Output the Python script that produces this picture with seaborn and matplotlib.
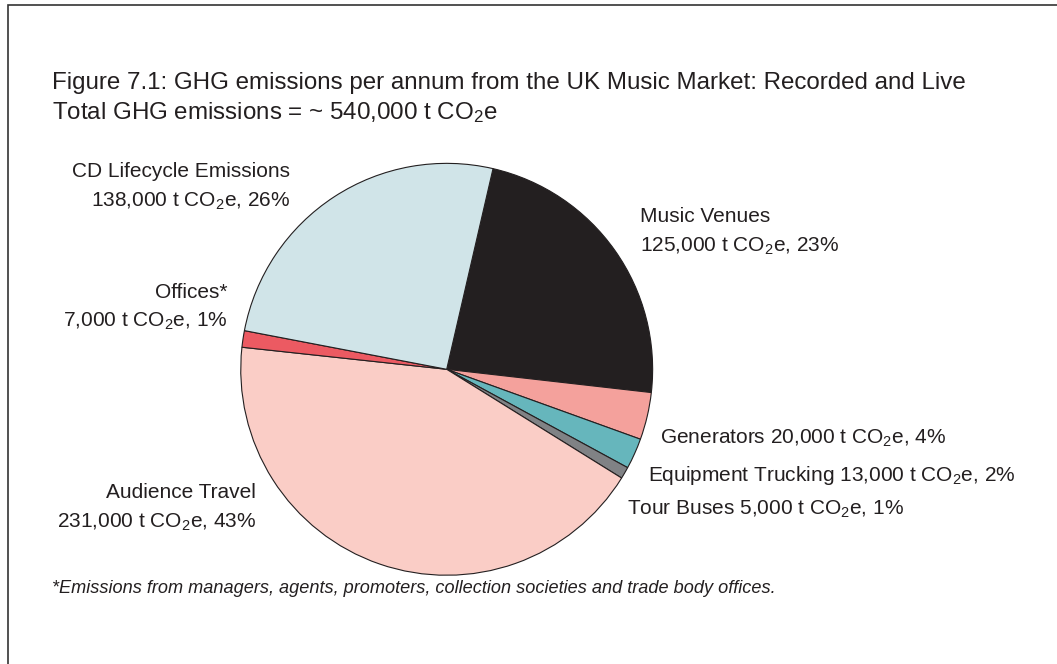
import matplotlib
matplotlib.use("Agg")
import matplotlib.pyplot as plt
import seaborn as sns
from matplotlib.patches import Rectangle

# data (t CO2e)
sources = ["Music Venues", "Generators", "Equipment Trucking", "Tour Buses",
           "Audience Travel", "Offices*", "CD Lifecycle Emissions"]
emissions = [125000, 20000, 13000, 5000, 231000, 7000, 138000]
shares = [23, 4, 2, 1, 43, 1, 26]
colours = ["#231f20", "#f4a19c", "#66b6bc", "#808285", "#facdc6", "#ec5a62", "#d0e4e8"]

sns.set_style("white")
plt.rcParams["font.family"] = ["Liberation Sans", "DejaVu Sans"]
plt.rcParams["mathtext.fontset"] = "custom"
plt.rcParams["mathtext.rm"] = "Liberation Sans"
plt.rcParams["mathtext.it"] = "Liberation Sans:italic"

W, H = 1057, 664
fig = plt.figure(figsize=(W / 100, H / 100), dpi=100)
fig.patch.set_facecolor("white")

# pie axes: centre ~(447, 369) px, radius ~208 px
cx, cy, r = 446.7, 369.3, 208
ax = fig.add_axes([(cx - r) / W, (H - cy - r) / H, 2 * r / W, 2 * r / H])
ax.pie(emissions, colors=sns.color_palette(colours), startangle=77, counterclock=False,
       wedgeprops=dict(edgecolor="#231f20", linewidth=0.8))
ax.set_xlim(-1.01, 1.01)
ax.set_ylim(-1.01, 1.01)
ax.axis("off")

txt = "#231f20"


def put(x, y, s, ha="left", size=15, **kw):
    fig.text(x / W, 1 - y / H, s, ha=ha, va="baseline", fontsize=size, color=txt, **kw)


def co2(v, p):
    return f"{v:,} t CO$_2$e, {p}%"


# title
put(52, 89, "Figure 7.1: GHG emissions per annum from the UK Music Market: Recorded and Live", size=17.4)
put(52, 119, "Total GHG emissions = ~ 540,000 t CO$_2$e", size=17.4)

# slice labels
put(290, 177, sources[6], ha="right")
put(290, 207, co2(emissions[6], shares[6]), ha="right")
put(640, 222, sources[0])
put(640, 252, co2(emissions[0], shares[0]))
put(228, 298, sources[5], ha="right")
put(228, 327, co2(emissions[5], shares[5]), ha="right")
put(660, 444, sources[1] + " " + co2(emissions[1], shares[1]))
put(648, 481, sources[2] + " " + co2(emissions[2], shares[2]))
put(627, 515, sources[3] + " " + co2(emissions[3], shares[3]))
put(256, 498, sources[4], ha="right")
put(256, 528, co2(emissions[4], shares[4]), ha="right")

# footnote
put(52, 593, "*Emissions from managers, agents, promoters, collection societies and trade body offices.",
    size=13.1, style="italic")

# outer frame, open to the right and bottom
fig.patches.append(Rectangle((8 / W, -0.1), 1.2, 1 - 5 / H + 0.1, transform=fig.transFigure,
                             fill=False, edgecolor="#333333", linewidth=1.2))

fig.savefig("out.png", dpi=100)
